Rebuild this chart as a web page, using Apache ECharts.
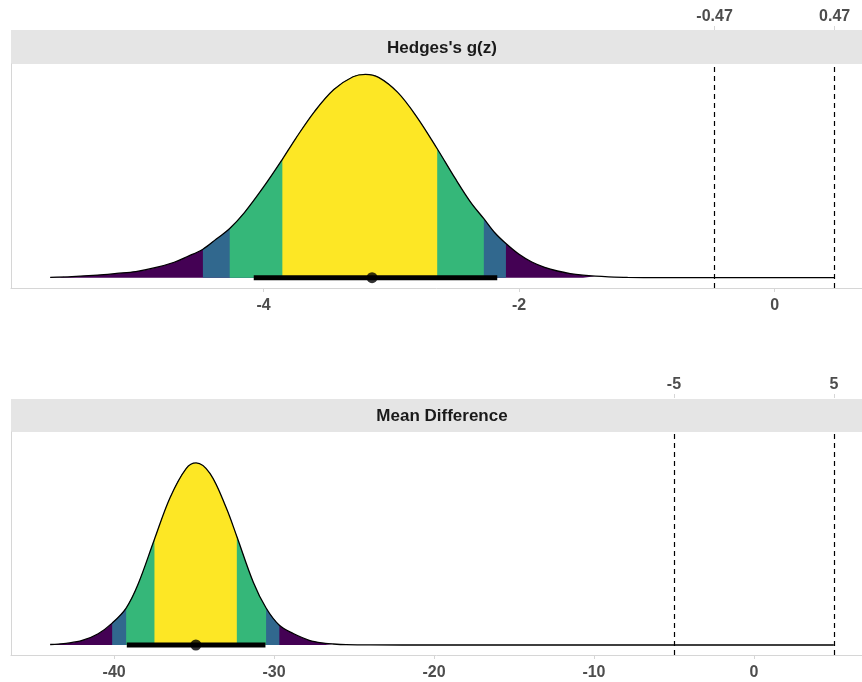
<!DOCTYPE html>
<html><head><meta charset="utf-8">
<script src="https://cdn.jsdelivr.net/npm/echarts@6/dist/echarts.min.js"></script>
<style>html,body{margin:0;padding:0;background:#fff}#c{width:862px;height:682px}</style>
</head><body><div id="c"></div>
<script>
// ---------- Data ----------
const panelTitles = ["Hedges's g(z)", "Mean Difference"];

// Top panel: density curve (x = effect size, y = relative density)
const topCurveX = [-5.67, -5.5, -5.3, -5.15, -5.0, -4.85, -4.7, -4.6, -4.475, -4.37, -4.265, -4.15, -4.0, -3.853, -3.75, -3.6, -3.45, -3.3, -3.203, -3.1, -2.95, -2.8, -2.641, -2.5, -2.38, -2.276, -2.19, -2.103, -2.0, -1.9, -1.8, -1.7, -1.6, -1.5, -1.402, -1.3, -1.15, -0.9, -0.5, 0, 0.47];
const topCurveY = [0.002, 0.0053, 0.0128, 0.021, 0.030, 0.049, 0.076, 0.103, 0.140, 0.190, 0.242, 0.320, 0.446, 0.582, 0.683, 0.818, 0.925, 0.988, 1.000, 0.985, 0.911, 0.790, 0.634, 0.488, 0.372, 0.290, 0.221, 0.168, 0.115, 0.077, 0.051, 0.033, 0.0205, 0.0125, 0.0074, 0.0042, 0.0015, 0.0003, 0, 0, 0];
// shaded confidence regions (outer to inner) lower / upper limits
const topBandLo = [-5.67, -4.475, -4.265, -3.853];
const topBandHi = [-1.402, -2.103, -2.276, -2.641];
const topCI = [-4.077, -2.171];
const topEst = -3.151;
const topBounds = [-0.47, 0.47];
const topTicks = [-4, -2, 0];

// Bottom panel
const botCurveX = [-44, -43.5, -43, -42, -41, -40.125, -39.25, -38.5, -37.48, -36.5, -35.5, -34.875, -34, -33, -32.33, -31.3, -30.5, -29.67, -28.8, -27.8, -26.8, -26.3, -25.5, -24, -20, -10, 0, 5];
const botCurveY = [0.0027, 0.005, 0.0088, 0.025, 0.062, 0.12, 0.203, 0.335, 0.581, 0.810, 0.969, 1.0, 0.941, 0.755, 0.596, 0.345, 0.203, 0.108, 0.063, 0.026, 0.0093, 0.0053, 0.0019, 0.0003, 0, 0, 0, 0];
const botBandLo = [-44, -40.125, -39.25, -37.48];
const botBandHi = [-26.3, -29.67, -30.5, -32.33];
const botCI = [-39.21, -30.54];
const botEst = -34.89;
const botBounds = [-5, 5];
const botTicks = [-40, -30, -20, -10, 0];

// ---------- Styling ----------
const bandColors = ['#440154', '#31688E', '#35B779', '#FDE725'];
const FONT = "'Liberation Sans', Arial, sans-serif";
const labelColor = '#4D4D4D';
const frameColor = '#D6D6D6';

function panelSeries(gi, xs, ys, lo, hi, ci, est, bounds) {
  const pts = xs.map((x, i) => [x, ys[i]]);
  const out = [];
  lo.forEach((l, k) => {
    out.push({
      type: 'line', xAxisIndex: gi * 2, yAxisIndex: gi, smooth: 0.35, symbol: 'none', z: 2,
      data: pts.filter(p => p[0] >= l && p[0] <= hi[k]),
      lineStyle: { width: 0, opacity: 0 },
      areaStyle: { color: bandColors[k], opacity: 1 },
      silent: true
    });
  });
  out.push({
    type: 'line', xAxisIndex: gi * 2, yAxisIndex: gi, smooth: 0.35, symbol: 'none', z: 3,
    data: pts, lineStyle: { color: '#000', width: 1.3 }, silent: true,
    markLine: {
      silent: true, symbol: ['none', 'none'], label: { show: false },
      lineStyle: { color: '#000', type: [5, 4], width: 1.2 },
      data: bounds.map(b => ({ xAxis: b }))
    }
  });
  out.push({
    type: 'line', xAxisIndex: gi * 2, yAxisIndex: gi, symbol: 'none', z: 4,
    data: [[ci[0], 0], [ci[1], 0]], lineStyle: { color: '#000', width: 5, cap: 'butt' }, silent: true
  });
  out.push({
    type: 'scatter', xAxisIndex: gi * 2, yAxisIndex: gi, symbolSize: 11, z: 6,
    data: [[est, 0]], itemStyle: { color: '#000' }, silent: true
  });
  return out;
}

function bottomAxis(gi, min, max, ticks) {
  return {
    type: 'value', gridIndex: gi, position: 'bottom', min: min, max: max,
    axisLine: { show: true, onZero: false, lineStyle: { color: frameColor, width: 1 } },
    axisTick: { show: true, customValues: ticks, length: 4, lineStyle: { color: frameColor } },
    axisLabel: { customValues: ticks, formatter: v => String(v), color: labelColor, fontWeight: 'bold', fontSize: 16, fontFamily: FONT, margin: 10 },
    splitLine: { show: false }
  };
}
function topAxis(gi, min, max, ticks) {
  return {
    type: 'value', gridIndex: gi, position: 'top', offset: 34, min: min, max: max,
    axisLine: { show: false, onZero: false },
    axisTick: { show: true, customValues: ticks, length: 4, lineStyle: { color: frameColor } },
    axisLabel: { customValues: ticks, formatter: v => String(v), color: labelColor, fontWeight: 'bold', fontSize: 16, fontFamily: FONT, margin: 5 },
    splitLine: { show: false }
  };
}
function yAx(gi, min, max) {
  return {
    type: 'value', gridIndex: gi, min: min, max: max,
    axisLine: { show: true, onZero: false, lineStyle: { color: frameColor, width: 1 } },
    axisTick: { show: false }, axisLabel: { show: false }, splitLine: { show: false }
  };
}

const chart = echarts.init(document.getElementById('c'), null, { renderer: 'canvas' });
chart.setOption({
  animation: false,
  backgroundColor: '#fff',
  grid: [
    { left: 11, right: 0, top: 64, height: 224 },
    { left: 11, right: 0, top: 432, height: 223 }
  ],
  xAxis: [
    bottomAxis(0, -5.977, 0.684, topTicks),
    topAxis(0, -5.977, 0.684, topBounds),
    bottomAxis(1, -46.45, 6.76, botTicks),
    topAxis(1, -46.45, 6.76, botBounds)
  ],
  yAxis: [yAx(0, -0.0506, 1.0506), yAx(1, -0.055, 1.170)],
  graphic: [
    { type: 'rect', shape: { x: 11, y: 30, width: 851, height: 34 }, style: { fill: '#E5E5E5' }, z: -1 },
    { type: 'rect', shape: { x: 11, y: 399, width: 851, height: 33 }, style: { fill: '#E5E5E5' }, z: -1 },
    { type: 'text', x: 442, y: 48, style: { text: panelTitles[0], fill: '#1A1A1A', font: 'bold 17px ' + FONT, align: 'center', verticalAlign: 'middle' } },
    { type: 'text', x: 442, y: 416, style: { text: panelTitles[1], fill: '#1A1A1A', font: 'bold 17px ' + FONT, align: 'center', verticalAlign: 'middle' } }
  ],
  series: [].concat(
    panelSeries(0, topCurveX, topCurveY, topBandLo, topBandHi, topCI, topEst, topBounds),
    panelSeries(1, botCurveX, botCurveY, botBandLo, botBandHi, botCI, botEst, botBounds)
  )
});
</script></body></html>
